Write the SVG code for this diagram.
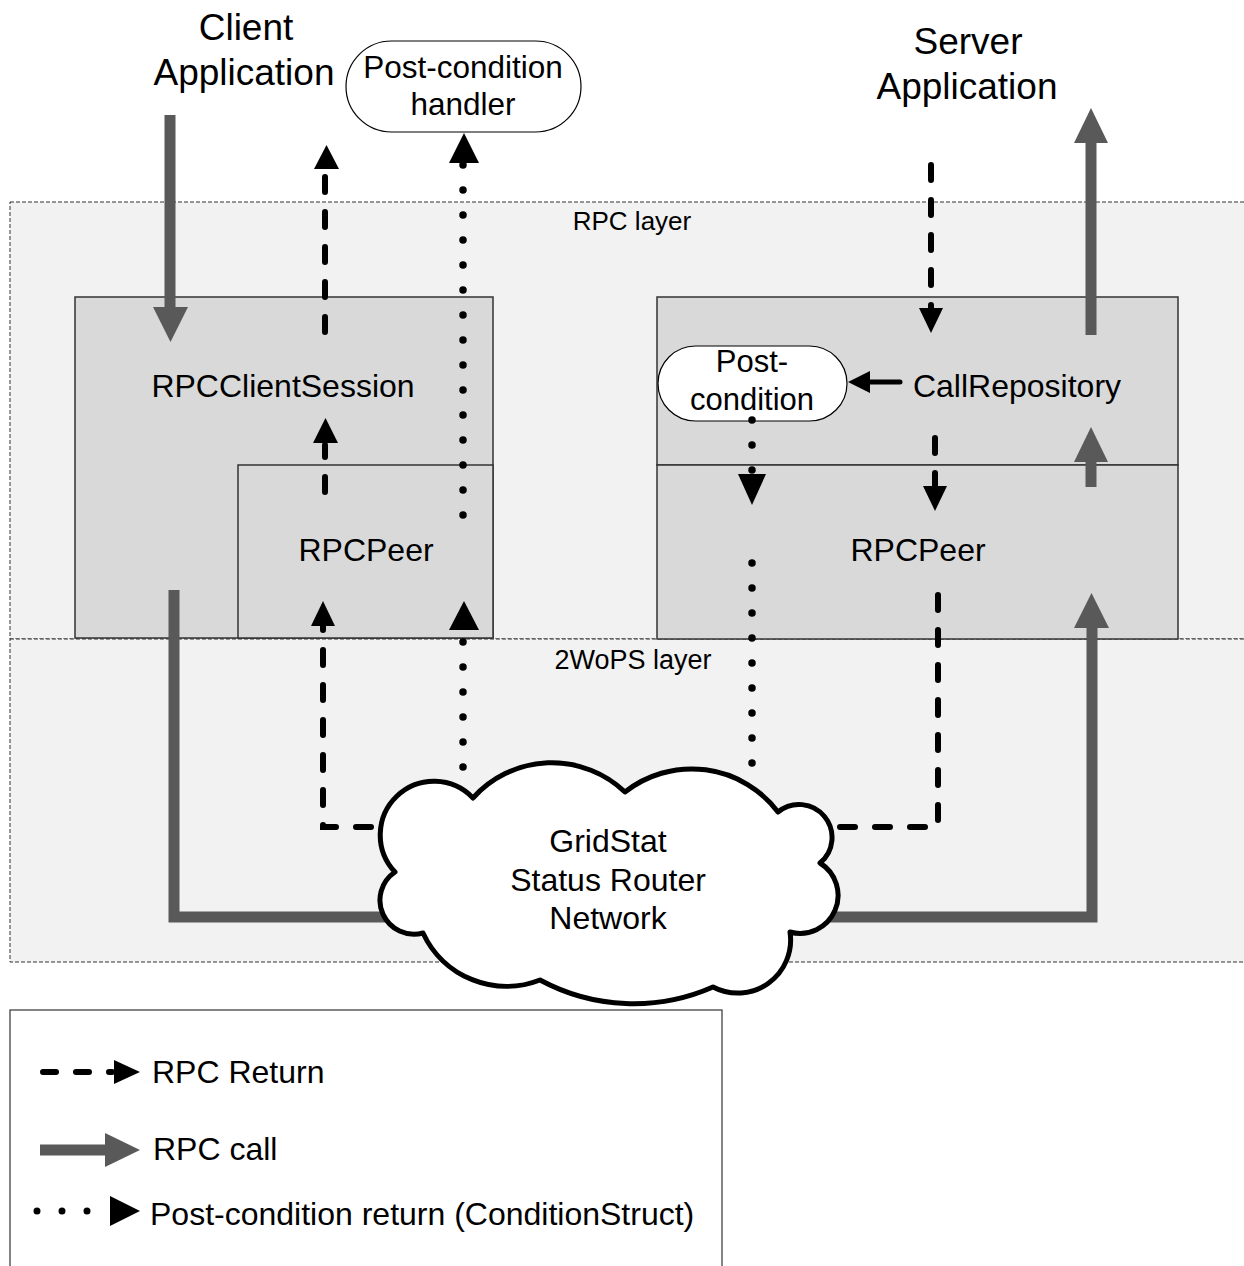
<svg xmlns="http://www.w3.org/2000/svg" width="1244" height="1266" viewBox="0 0 1244 1266">
  <style>
    text { font-family: "Liberation Sans", Arial, sans-serif; fill: #000; }
    .mid { text-anchor: middle; }
    .layer { fill: #f2f2f2; stroke: #333; stroke-width: 1; stroke-dasharray: 4 2; }
    .box { fill: #d9d9d9; stroke: #333; stroke-width: 1.5; }
    .pill { fill: #fff; stroke: #000; stroke-width: 1.2; }
    .call { fill: none; stroke: #595959; stroke-width: 11; }
    .callhead { fill: #595959; }
    .ret { fill: none; stroke: #000; stroke-width: 6; stroke-linecap: round; stroke-dasharray: 15 20; }
    .dot { fill: none; stroke: #000; stroke-width: 7.5; stroke-linecap: round; stroke-dasharray: 0 25; }
    .head { fill: #000; }
    .cloud { fill: #fff; stroke: #000; stroke-width: 5; stroke-linejoin: round; }
  </style>

  <!-- layer backgrounds -->
  <g id="layers">
    <rect class="layer" x="10" y="202" width="1250" height="437"/>
    <rect class="layer" x="10" y="639" width="1250" height="323"/>
    <text class="mid" x="632" y="230" font-size="26">RPC layer</text>
    <text class="mid" x="633" y="669" font-size="27">2WoPS layer</text>
  </g>

  <!-- client side -->
  <g id="rpc-client-session">
    <rect class="box" x="75" y="297" width="418" height="341"/>
    <text class="mid" x="283" y="397" font-size="32">RPCClientSession</text>
  </g>
  <g id="client-rpc-peer">
    <rect class="box" x="238" y="465" width="255" height="173"/>
    <text class="mid" x="366" y="561" font-size="32">RPCPeer</text>
  </g>

  <!-- server side -->
  <g id="call-repository">
    <rect class="box" x="657" y="297" width="521" height="168"/>
    <text class="mid" x="1017" y="397" font-size="32">CallRepository</text>
  </g>
  <g id="server-rpc-peer">
    <rect class="box" x="657" y="465" width="521" height="174"/>
    <text class="mid" x="918" y="561" font-size="32">RPCPeer</text>
  </g>

  <g id="client-application">
    <text class="mid" x="246" y="40" font-size="37">Client</text>
    <text class="mid" x="244" y="85" font-size="37">Application</text>
  </g>
  <g id="server-application">
    <text class="mid" x="968" y="54" font-size="37">Server</text>
    <text class="mid" x="967" y="99" font-size="37">Application</text>
  </g>

  <g id="post-condition-handler">
    <rect class="pill" x="346" y="41" width="235" height="91" rx="45.5"/>
    <text class="mid" x="463" y="78" font-size="31.5">Post-condition</text>
    <text class="mid" x="463" y="115" font-size="31.5">handler</text>
  </g>

  <g id="post-condition">
    <rect class="pill" x="658" y="346" width="189" height="75" rx="37.5"/>
    <text class="mid" x="752" y="372" font-size="31">Post-</text>
    <text class="mid" x="752" y="410" font-size="31">condition</text>
  </g>

  <!-- connectors -->
  <g id="connectors">
    <!-- RPC call path (grey) -->
    <path class="call" d="M170,115 V309"/>
    <polygon class="callhead" points="153,307 188,307 170.5,342"/>
    <path class="call" d="M174,590 V917 H420"/>
    <path class="call" d="M800,917 H1092 V626"/>
    <polygon class="callhead" points="1074,628 1109,628 1091.5,593"/>
    <path class="call" d="M1091,487 V460"/>
    <polygon class="callhead" points="1074,462 1108,462 1091,427"/>
    <path class="call" d="M1091,335 V141"/>
    <polygon class="callhead" points="1074,143 1108,143 1091,108"/>

    <!-- RPC return path (dashed) -->
    <path class="ret" d="M938,595 V827 H830"/>
    <path class="ret" d="M935,438 V488"/>
    <polygon class="head" points="923,486 947,486 935,511"/>
    <path class="ret" d="M931,165 V308"/>
    <polygon class="head" points="919,308 943,308 931,333"/>
    <path class="ret" d="M323,615 V827 H400"/>
    <polygon class="head" points="311,626 335,626 323,601"/>
    <path class="ret" d="M325,492 V445"/>
    <polygon class="head" points="313,443 338,443 325.5,418"/>
    <path class="ret" d="M325,332 V172"/>
    <polygon class="head" points="314,169 339,169 326.5,145"/>
    <path d="M900,382 H866" stroke="#000" stroke-width="5" stroke-linecap="round" fill="none"/>
    <polygon class="head" points="870,371 870,393 848,382"/>

    <!-- post-condition return path (dotted) -->
    <path class="dot" d="M752,563 V765"/>
    <path class="dot" d="M752,420 V472"/>
    <polygon class="head" points="738,474 766,474 752,505"/>
    <path class="dot" d="M463,642 V795"/>
    <polygon class="head" points="449,630 479,630 464,601"/>
    <path class="dot" d="M463,165 V517"/>
    <polygon class="head" points="449,163 479,163 464,133"/>
  </g>

  <!-- router network -->
  <g id="gridstat-network">
    <path class="cloud" d="M395,872 A53,53 0 0 1 473,798 A106,106 0 0 1 625,792 A108,108 0 0 1 778,812 A33,33 0 0 1 820,863 A38,38 0 0 1 790,932 A53,53 0 0 1 713,987 A197,197 0 0 1 540,980 A92,92 0 0 1 423,933 A34,34 0 0 1 395,872 Z"/>
    <text class="mid" x="608" y="852" font-size="32">GridStat</text>
    <text class="mid" x="608" y="891" font-size="32">Status Router</text>
    <text class="mid" x="608" y="929" font-size="32">Network</text>
  </g>

  <!-- legend -->
  <g id="legend">
    <rect x="10" y="1010" width="712" height="280" fill="#fff" stroke="#333" stroke-width="1.2"/>
    <path d="M43,1072 H112" fill="none" stroke="#000" stroke-width="6" stroke-linecap="round" stroke-dasharray="13 20"/>
    <polygon class="head" points="114,1060 140,1072 114,1084"/>
    <text x="152" y="1083" font-size="32">RPC Return</text>
    <path d="M40,1150 H108" fill="none" stroke="#595959" stroke-width="11"/>
    <polygon class="callhead" points="105,1133 140,1150 105,1167"/>
    <text x="153" y="1160" font-size="32">RPC call</text>
    <path d="M37,1211 H112" fill="none" stroke="#000" stroke-width="7" stroke-linecap="round" stroke-dasharray="0 25"/>
    <polygon class="head" points="110,1196 140,1211 110,1226"/>
    <text x="150" y="1225" font-size="32">Post-condition return (ConditionStruct)</text>
  </g>
</svg>
